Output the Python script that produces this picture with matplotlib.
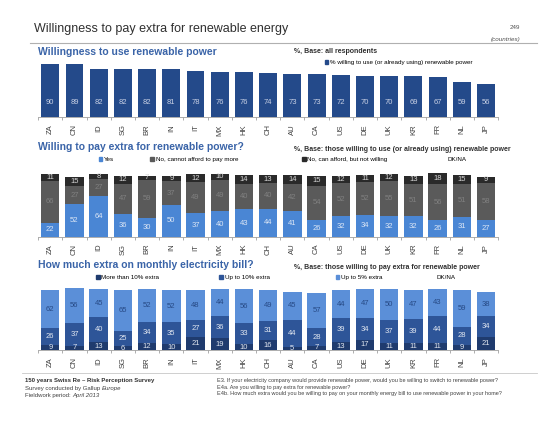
import numpy as np
import matplotlib
matplotlib.use("Agg")
import matplotlib.pyplot as plt
from matplotlib.patches import Patch

plt.rcParams['font.family'] = ['Liberation Sans', 'DejaVu Sans']

countries = ["ZA", "CN", "ID", "SG", "BR", "IN", "IT", "MX", "HK", "CH",
             "AU", "CA", "US", "DE", "UK", "KR", "FR", "NL", "JP"]

# panel 1: % willing to use renewable power
willing_use = [90, 89, 82, 82, 82, 81, 78, 76, 76, 74, 73, 73, 72, 70, 70, 69, 67, 59, 56]

# panel 2: willing to pay extra
pay_yes = [22, 52, 64, 36, 30, 50, 37, 40, 43, 44, 41, 26, 32, 34, 32, 32, 26, 31, 27]
pay_no_cannot = [66, 27, 27, 47, 59, 37, 49, 49, 40, 40, 42, 54, 52, 52, 55, 51, 56, 51, 58]
pay_no_notwilling = [11, 15, 8, 12, 7, 9, 12, 10, 14, 13, 14, 15, 12, 11, 12, 13, 18, 15, 9]

# panel 3: how much extra
extra_more10 = [9, 7, 13, 6, 12, 10, 21, 19, 10, 16, 5, 7, 13, 17, 11, 11, 11, 9, 21]
extra_upto10 = [26, 37, 40, 25, 34, 35, 27, 36, 33, 31, 44, 28, 39, 34, 37, 39, 44, 28, 34]
extra_upto5 = [62, 56, 45, 65, 52, 52, 48, 44, 56, 49, 45, 57, 44, 47, 50, 47, 43, 59, 38]

TITLE_BLUE = "#3A64A8"
x = np.arange(len(countries))

fig = plt.figure(figsize=(5.45, 4.26), dpi=100)


def setup_axis(ax):
    ax.set_xlim(-0.5, len(countries) - 0.5)
    ax.set_ylim(0, 100)
    for s in ["top", "right", "left"]:
        ax.spines[s].set_visible(False)
    ax.spines["bottom"].set_color("#A0A0A0")
    ax.spines["bottom"].set_linewidth(0.6)
    ax.set_yticks([])
    ax.set_xticks(x)
    ax.set_xticklabels(countries, rotation=90, fontsize=5.5, color="#404040")
    ax.tick_params(axis="x", which="major", length=0, pad=5)
    ax.set_xticks(np.arange(-0.5, len(countries), 1), minor=True)
    ax.tick_params(axis="x", which="minor", length=2, color="#A0A0A0", width=0.6)


def seg_labels(ax, bottoms, vals, color, fs=5.5):
    for i, (b, v) in enumerate(zip(bottoms, vals)):
        ax.text(i, b + v / 2, str(v), ha="center", va="center", fontsize=fs, color=color)


# header
fig.text(0.062, 0.924, "Willingness to pay extra for renewable energy", fontsize=9,
         color="#303030")
fig.text(0.955, 0.932, "249", fontsize=4.5, color="#505050", ha="right")
fig.text(0.955, 0.903, "(countries)", fontsize=4.5, color="#505050", ha="right", style="italic")
fig.add_artist(plt.Line2D([0.055, 0.985], [0.898, 0.898], color="#B0B0B0", lw=0.8))

# ---- panel 1
ax1 = fig.add_axes([0.07, 0.725, 0.844, 0.139])
setup_axis(ax1)
ax1.bar(x, willing_use, width=0.74, color="#244A8A")
for i, v in enumerate(willing_use):
    ax1.text(i, 25, str(v), ha="center", va="center", fontsize=5.5, color="#C8D0E4")
fig.text(0.07, 0.872, "Willingness to use renewable power", fontsize=7.5, fontweight="bold",
         color=TITLE_BLUE)
fig.text(0.54, 0.876, "%, Base: all respondents", fontsize=5, fontweight="bold", color="#303030")
fig.legend(handles=[Patch(color="#244A8A", label="% willing to use (or already using) renewable power")],
           loc="center left", bbox_to_anchor=(0.59, 0.853), frameon=False, fontsize=4.5,
           handlelength=0.6, handleheight=0.6, handletextpad=0.3, borderpad=0)

# ---- panel 2
ax2 = fig.add_axes([0.07, 0.444, 0.844, 0.150])
setup_axis(ax2)
c_yes, c_no1, c_no2 = "#4A86D4", "#5A5A5A", "#2A2A2A"
b1 = np.array(pay_yes)
b2 = b1 + np.array(pay_no_cannot)
ax2.bar(x, pay_yes, width=0.76, color=c_yes)
ax2.bar(x, pay_no_cannot, bottom=b1, width=0.76, color=c_no1)
ax2.bar(x, pay_no_notwilling, bottom=b2, width=0.76, color=c_no2)
seg_labels(ax2, np.zeros(len(countries)), pay_yes, "#DCE6F5")
seg_labels(ax2, b1, pay_no_cannot, "#808080")
seg_labels(ax2, b2, pay_no_notwilling, "#D8D8D8")
fig.text(0.07, 0.647, "Willing to pay extra for renewable power?", fontsize=7.5, fontweight="bold",
         color=TITLE_BLUE)
fig.text(0.54, 0.645, "%, Base: those willing to use (or already using) renewable power", fontsize=5,
         fontweight="bold", color="#303030")
h2 = [Patch(color=c_yes, label="Yes"),
      Patch(color=c_no1, label="No, cannot afford to pay more"),
      Patch(color=c_no2, label="No, can afford, but not willing"),
      Patch(color="white", label="DK/NA")]
anchors2 = [0.175, 0.27, 0.548, 0.805]
for h, ax_ in zip(h2, anchors2):
    fig.legend(handles=[h], loc="center left", bbox_to_anchor=(ax_, 0.626), frameon=False,
               fontsize=4.5, handlelength=0.6, handleheight=0.6, handletextpad=0.3, borderpad=0)

# ---- panel 3
ax3 = fig.add_axes([0.07, 0.178, 0.844, 0.146])
setup_axis(ax3)
c_m10, c_u10, c_u5 = "#1F3B6E", "#2E5598", "#5B8FD8"
d1 = np.array(extra_more10)
d2 = d1 + np.array(extra_upto10)
ax3.bar(x, extra_more10, width=0.76, color=c_m10)
ax3.bar(x, extra_upto10, bottom=d1, width=0.76, color=c_u10)
ax3.bar(x, extra_upto5, bottom=d2, width=0.76, color=c_u5)
seg_labels(ax3, np.zeros(len(countries)), extra_more10, "#E0E6F0")
seg_labels(ax3, d1, extra_upto10, "#E0E6F0")
seg_labels(ax3, d2, extra_upto5, "#274A86")
fig.text(0.07, 0.372, "How much extra on monthly electricity bill?", fontsize=7.5, fontweight="bold",
         color=TITLE_BLUE)
fig.text(0.54, 0.368, "%, Base: those willing to pay extra for renewable power", fontsize=5,
         fontweight="bold", color="#303030")
h3 = [Patch(color=c_m10, label="More than 10% extra"),
      Patch(color=c_u10, label="Up to 10% extra"),
      Patch(color=c_u5, label="Up to 5% extra"),
      Patch(color="white", label="DK/NA")]
anchors3 = [0.17, 0.397, 0.61, 0.785]
for h, ax_ in zip(h3, anchors3):
    fig.legend(handles=[h], loc="center left", bbox_to_anchor=(ax_, 0.349), frameon=False,
               fontsize=4.5, handlelength=0.6, handleheight=0.6, handletextpad=0.3, borderpad=0)

# footer
fig.add_artist(plt.Line2D([0.04, 0.985], [0.125, 0.125], color="#C8C8C8", lw=0.6))
overlay = fig.add_axes([0, 0, 1, 1])
overlay.axis("off")
fig.text(0.046, 0.103, "150 years Swiss Re \u2013 Risk Perception Survey", fontsize=4.3,
         fontweight="bold", color="#303030")
t2 = fig.text(0.046, 0.085, "Survey conducted by Gallup ", fontsize=4.3, color="#404040")
overlay.annotate("Europe", xy=(1, 0), xycoords=t2, va="bottom", fontsize=4.3,
                 color="#404040", style="italic")
t3 = fig.text(0.046, 0.067, "Fieldwork period: ", fontsize=4.3, color="#404040")
overlay.annotate("April 2013", xy=(1, 0), xycoords=t3, va="bottom", fontsize=4.3,
                 color="#404040", style="italic")
fig.text(0.398, 0.103, "E3. If your electricity company would provide renewable power, would you be "
         "willing to switch to renewable power?", fontsize=4.0, color="#404040")
fig.text(0.398, 0.088, "E4a. Are you willing to pay extra for renewable power?", fontsize=4.0,
         color="#404040")
fig.text(0.398, 0.073, "E4b. How much extra would you be willing to pay on your monthly energy bill "
         "to use renewable power in your home?", fontsize=4.0, color="#404040")

fig.savefig("out.png", dpi=100)
